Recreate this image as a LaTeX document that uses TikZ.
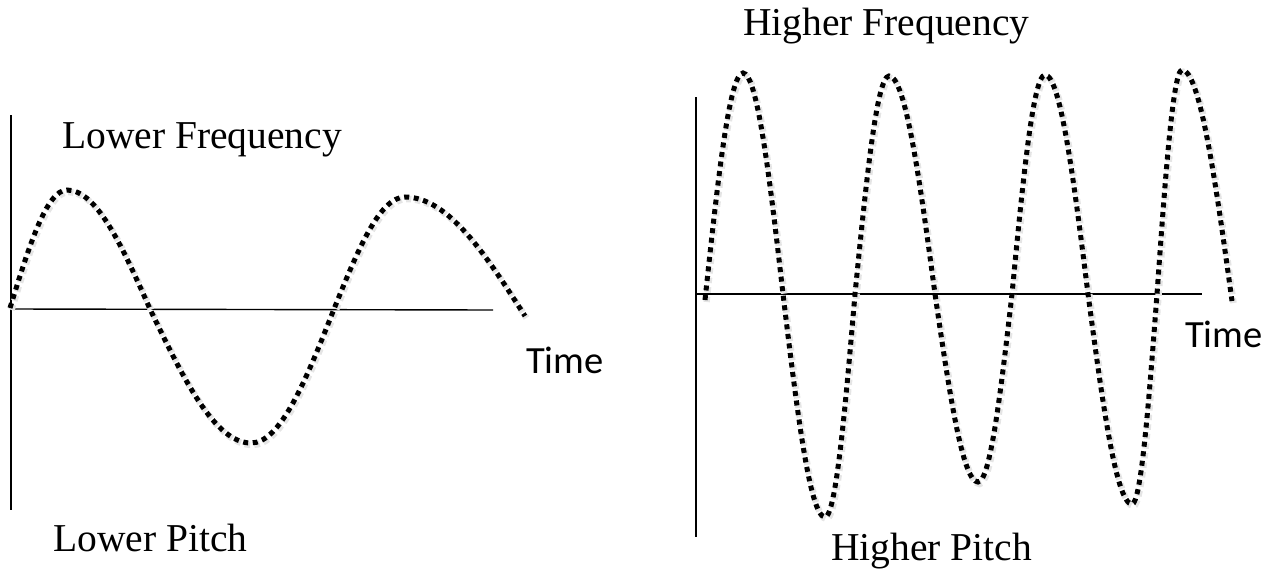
\documentclass[tikz,border=0pt]{standalone}
\usepackage{fontspec}
\setmainfont{Liberation Serif}
\newfontfamily\timefont{Carlito}
\begin{document}
\begin{tikzpicture}[x=1pt,y=-1pt,
  axis/.style={line width=1.4pt,black},
  wave/.style={line width=5pt,black,dash pattern=on 5pt off 4.6pt,line cap=butt},
  shadow/.style={line width=6.5pt,black!10,dash pattern=on 5.5pt off 4.1pt,line cap=butt},
  lbl/.style={anchor=base west,inner sep=0pt,font=\fontsize{39.5}{47}\selectfont},
  tlbl/.style={anchor=base west,inner sep=0pt,font=\timefont\fontsize{38.5}{46}\selectfont}]
\useasboundingbox (0,0) rectangle (1287,578);
% left graph
\coordinate (LvT) at (11,115);
\coordinate (LvB) at (11,510);
\coordinate (LhL) at (11,309);
\coordinate (LhR) at (493,310);
\draw[axis] (LvT) -- (LvB);
\draw[axis] (LhL) -- (LhR);
\draw[shadow,xshift=1.5pt,yshift=-2pt] (10,308) sin (67,190) cos (150,309) sin (251,443) cos (334,309) sin (405,197) cos (525,316);
\draw[wave] (10,308) sin (67,190) cos (150,309) sin (251,443) cos (334,309) sin (405,197) cos (525,316);
\node[lbl] (lf) at (62,148) {Lower Frequency};
\node[lbl] (lp) at (53,551) {Lower Pitch};
\node[tlbl] (lt) at (526,373) {Time};
% right graph
\coordinate (RvT) at (696,97);
\coordinate (RvB) at (696,537);
\coordinate (RhL) at (696,294);
\coordinate (RhR) at (1202,294);
\draw[axis] (RvT) -- (RvB);
\draw[axis] (RhL) -- (RhR);
\draw[shadow,xshift=1.5pt,yshift=-2pt] (705,300) sin (743,73) cos (783,294) sin (825,517) cos (855,294) sin (889,76) cos (935,294) sin (978,482) cos (1012,294) sin (1045,75) cos (1088,294) sin (1132,504) cos (1157,294) sin (1182,70) cos (1232,301);
\draw[wave] (705,300) sin (743,73) cos (783,294) sin (825,517) cos (855,294) sin (889,76) cos (935,294) sin (978,482) cos (1012,294) sin (1045,75) cos (1088,294) sin (1132,504) cos (1157,294) sin (1182,70) cos (1232,301);
\node[lbl] (hf) at (743,36) {Higher Frequency};
\node[lbl] (hp) at (831,560) {Higher Pitch};
\node[tlbl] (rt) at (1185,347) {Time};
\end{tikzpicture}
\end{document}
